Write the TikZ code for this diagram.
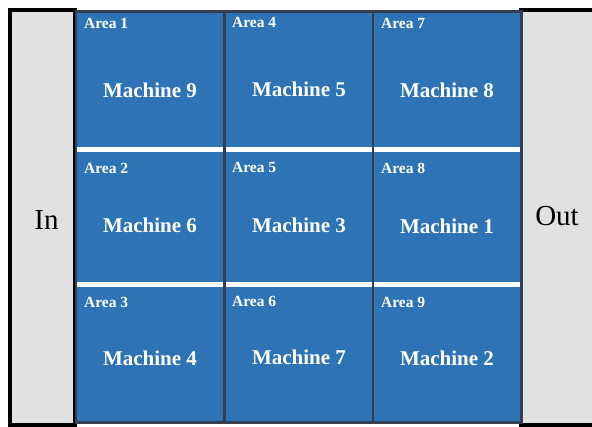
\documentclass[tikz,border=0pt]{standalone}
\usepackage{fontspec}
\setmainfont{Liberation Serif}
\definecolor{cellblue}{HTML}{2E74B5}
\definecolor{slate}{HTML}{333F50}
\definecolor{sidegray}{HTML}{E1E1E1}
\tikzset{
  sidebox/.style={fill=sidegray, draw=black, line width=4pt},
  column/.style={fill=cellblue, draw=slate, line width=2.5pt},
  gap/.style={draw=white, line width=5pt},
  arealbl/.style={text=white, font=\fontsize{15.5}{16}\selectfont\bfseries, anchor=west, inner sep=0pt},
  machlbl/.style={text=white, font=\fontsize{21}{22}\selectfont\bfseries, inner sep=0pt},
  sidelbl/.style={text=black, font=\fontsize{29}{30}\selectfont, inner sep=0pt}
}
\begin{document}
\begin{tikzpicture}[x=1pt,y=-1pt]
\useasboundingbox[fill=white] (0,0) rectangle (592,426);
% side boxes
\draw[sidebox] (10,10) rectangle (75,424.5);
\draw[sidebox] (521,10) rectangle (596,424.5);
% columns
\draw[column] (76,11.25) rectangle (224.5,422.5);
\draw[column] (224.5,11.25) rectangle (373,422.5);
\draw[column] (373,11.25) rectangle (521.5,422.5);
% white gaps
\foreach \xa/\xb in {77.25/223.25, 225.75/371.75, 374.25/520.25}{
  \draw[gap] (\xa,149.5) -- (\xb,149.5);
  \draw[gap] (\xa,284.5) -- (\xb,284.5);
}
% labels
\node[sidelbl] (in) at (46.5,220) {In};
\node[sidelbl] (out) at (557,216) {Out};
\node[arealbl] (a1) at (84,23) {Area 1};
\node[arealbl] (a2) at (84,168) {Area 2};
\node[arealbl] (a3) at (84,302) {Area 3};
\node[arealbl] (a4) at (232,22) {Area 4};
\node[arealbl] (a5) at (232,167) {Area 5};
\node[arealbl] (a6) at (232,301) {Area 6};
\node[arealbl] (a7) at (381,23) {Area 7};
\node[arealbl] (a8) at (381,168) {Area 8};
\node[arealbl] (a9) at (381,302) {Area 9};
\node[machlbl] (m9) at (150,90) {Machine 9};
\node[machlbl] (m6) at (150,225) {Machine 6};
\node[machlbl] (m4) at (150,358) {Machine 4};
\node[machlbl] (m5) at (299,89) {Machine 5};
\node[machlbl] (m3) at (299,225) {Machine 3};
\node[machlbl] (m7) at (299,357) {Machine 7};
\node[machlbl] (m8) at (447,90) {Machine 8};
\node[machlbl] (m1) at (447,226) {Machine 1};
\node[machlbl] (m2) at (447,358) {Machine 2};
\end{tikzpicture}
\end{document}
